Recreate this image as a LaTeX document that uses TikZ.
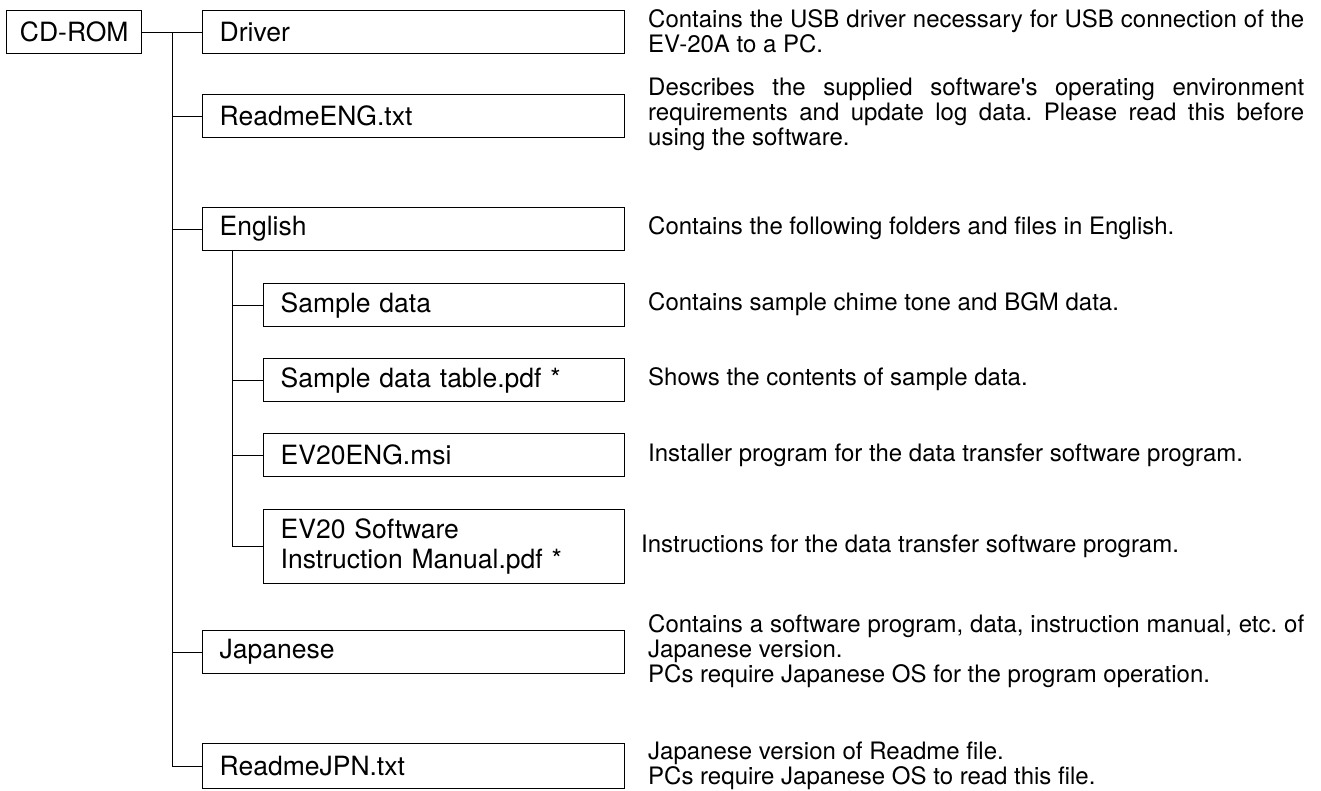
\documentclass[tikz,border=0pt]{standalone}
\usepackage{fontspec}
\setmainfont{TeX Gyre Heros}
\frenchspacing
\begin{document}
\begin{tikzpicture}[x=1pt,y=-1pt,
  box/.style={draw, line width=1.4pt, rectangle, anchor=north west, inner xsep=17pt, inner ysep=0pt,
    align=left, minimum height=43pt, text width=388pt, font=\fontsize{26.5}{30}\selectfont},
  subbox/.style={box, text width=327pt},
  desc/.style={anchor=west, text width=656pt, align=justify, inner sep=0pt, font=\fontsize{24}{25}\selectfont\frenchspacing},
  conn/.style={line width=1pt}]
\useasboundingbox (0,0) rectangle (1321,791);

% boxes
\node[draw, line width=1.4pt, rectangle, anchor=north west, inner xsep=0pt, inner ysep=0pt,
  minimum width=135pt, minimum height=43pt, font=\fontsize{26.5}{30}\selectfont] (cd) at (6,10) {CD-ROM};
\node[box] (drv) at (202,10) {Driver};
\node[box] (rde) at (202,94) {ReadmeENG.txt};
\node[box] (eng) at (202,207) {English};
\node[subbox] (smp) at (263,283) {Sample data};
\node[subbox] (tab) at (263,358) {Sample data table.pdf *};
\node[subbox] (msi) at (263,433) {EV20ENG.msi};
\node[subbox, minimum height=74pt] (man) at (263,509) {EV20 Software\\Instruction Manual.pdf *};
\node[box] (jpn) at (202,630) {Japanese};
\node[box, minimum height=45pt] (rdj) at (202,743) {ReadmeJPN.txt};

% descriptions
\node[desc] (d1) at (648,31.5) {Contains the USB driver necessary for USB connection of the\linebreak EV-20A to a PC.};
\node[desc] (d2) at (648,114) {Describes the supplied software\textquotesingle s operating environment\linebreak requirements and update log data. Please read this before\linebreak using the software.};
\node[desc] (d3) at (648,228.5) {Contains the following folders and files in English.};
\node[desc] (d4) at (648,304.5) {Contains sample chime tone and BGM data.};
\node[desc] (d5) at (648,379.5) {Shows the contents of sample data.};
\node[desc] (d6) at (648,455) {Installer program for the data transfer software program.};
\node[desc] (d7) at (641,546) {Instructions for the data transfer software program.};
\node[desc] (d8) at (648,651) {Contains a software program, data, instruction manual, etc. of\linebreak Japanese version.\newline PCs require Japanese OS for the program operation.};
\node[desc] (d9) at (648,765.5) {Japanese version of Readme file.\newline PCs require Japanese OS to read this file.};

% connectors
\coordinate (tr) at (172,0);
\coordinate (st) at (232,0);
\draw[conn] (cd.east) -- (drv.west);
\draw[conn] (tr |- cd.east) |- (rdj.west);
\draw[conn] (tr |- rde.west) -- (rde.west);
\draw[conn] (tr |- eng.west) -- (eng.west);
\draw[conn] (tr |- jpn.west) -- (jpn.west);
\draw[conn] (st |- eng.south) |- (man.west);
\draw[conn] (st |- smp.west) -- (smp.west);
\draw[conn] (st |- tab.west) -- (tab.west);
\draw[conn] (st |- msi.west) -- (msi.west);
\end{tikzpicture}
\end{document}
